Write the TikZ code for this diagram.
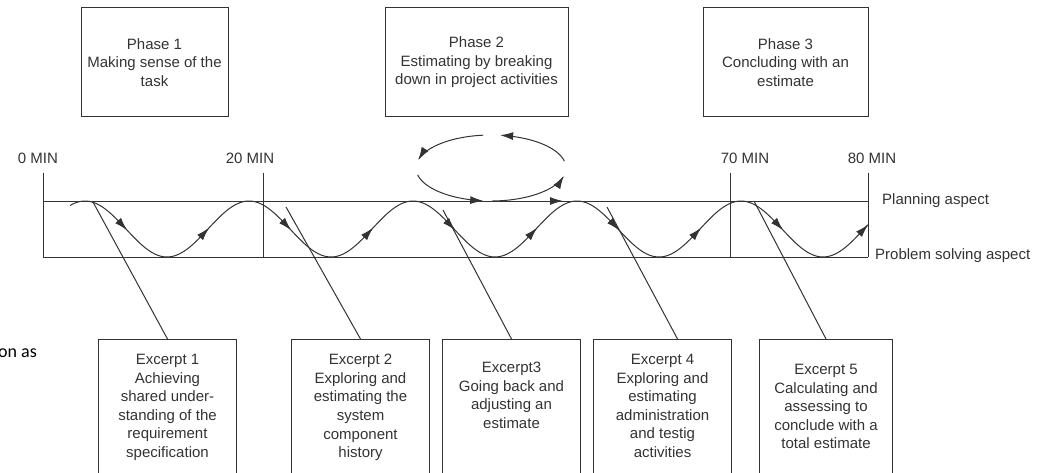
\documentclass[tikz,border=0pt]{standalone}
\usepackage{fontspec}
\setmainfont{Liberation Sans}
\newfontfamily\bodyfont{Carlito}
\usetikzlibrary{arrows.meta}

\begin{document}
\begin{tikzpicture}[x=1pt,y=-1pt,
  ink/.style={draw=black!80, line width=1pt},
  tip/.style={-{Latex[length=13pt,width=8pt]}},
  txt/.style={font=\fontsize{15}{18.6}\selectfont, text=black!80, inner sep=0pt},
  phasebox/.style={ink, txt, align=center, minimum height=109pt},
  exbox/.style={ink, anchor=north west, minimum width=138pt, minimum height=160pt, inner sep=0pt},
  extext/.style={txt, align=center, anchor=north},
  declare function={wy(\t)=229-28*cos(2.195122*(\t-85));},
]
\useasboundingbox (0,0) rectangle (1048,473);
\clip (0,0) rectangle (1048,473);

% phase boxes
\node[phasebox, minimum width=147pt] (ph1) at (154.5,62.5) {Phase 1\\Making sense of the\\task};
\node[phasebox, minimum width=183pt] (ph2) at (476.5,62.5) {Phase 2\\Estimating by breaking\\down in project activities};
\node[phasebox, minimum width=165pt] (ph3) at (785.5,62.5) {Phase 3\\Concluding with an\\estimate};

% time marks
\node[txt] (t0)  at (38,158)  {0 MIN};
\node[txt] (t20) at (250,158) {20 MIN};
\node[txt] (t70) at (745,158) {70 MIN};
\node[txt] (t80) at (872,158) {80 MIN};

% timeline frame
\coordinate (pl0) at (43,201);  \coordinate (pl1) at (868,201);
\coordinate (ps0) at (43,257);  \coordinate (ps1) at (868,257);
\draw[ink] (pl0) -- (pl1);
\draw[ink] (ps0) -- (ps1);
\foreach \m in {43,263,730,868}
  \draw[ink] (\m,173) -- (\m,257);

\node[txt, anchor=west] (plan) at (882,201) {Planning aspect};
\node[txt, anchor=west] (prob) at (875,256) {Problem solving aspect};

% wave between the two aspects
\draw[ink] plot[domain=70:868, samples=300] (\x,{wy(\x)});
% arrowheads along the wave
\foreach \s in {85,167,249,331,413,495,577,659,741} {
  \pgfmathsetmacro{\xa}{\s+42}
  \pgfmathsetmacro{\xb}{\s+41}
  \draw[ink, tip] (\xb,{wy(\xb)}) -- (\xa,{wy(\xa)});
}
\draw[ink, tip] (867,{wy(867)}) -- (868,{wy(868)});

% loop of phase 2
\draw[ink, tip] plot[domain=96:166, samples=30] ({491+75*cos(\x)},{168-33*sin(\x)});
\draw[ink, tip] plot[domain=12:83, samples=30] ({491+75*cos(\x)},{168-33*sin(\x)});
\draw[ink, tip] plot[domain=192:264, samples=30] ({491+75*cos(\x)},{168-33*sin(\x)});
\draw[ink, tip] plot[domain=271:346, samples=30] ({491+75*cos(\x)},{168-33*sin(\x)});
\coordinate (ha) at (490,201); \coordinate (hb) at (563,201);
\draw[ink, tip] (ha) -- (hb);

% excerpt boxes
\node[exbox] (ex1) at (98,339) {};
\node[exbox] (ex2) at (291,339) {};
\node[exbox] (ex3) at (442,339) {};
\node[exbox] (ex4) at (593,339) {};
\node[exbox, minimum width=133pt] (ex5) at (759,339) {};

\node[extext] (ex1t) at ([yshift=-15pt]ex1.north) {Excerpt 1\\Achieving\\shared under-\\standing of the\\requirement\\specification};
\node[extext] (ex2t) at ([yshift=-15pt]ex2.north) {Excerpt 2\\Exploring and\\estimating the\\system\\component\\history};
\node[extext] (ex3t) at ([yshift=-23pt]ex3.north) {Excerpt3\\Going back and\\adjusting an\\estimate};
\node[extext] (ex4t) at ([yshift=-15pt]ex4.north) {Excerpt 4\\Exploring and\\estimating\\administration\\and testig\\activities};
\node[extext] (ex5t) at ([yshift=-25pt]ex5.north) {Excerpt 5\\Calculating and\\assessing to\\conclude with a\\total estimate};

% leader lines from the wave to the excerpts
\coordinate (w1) at (93,202);
\coordinate (w2) at (286,207);
\coordinate (w3) at (443,210);
\coordinate (w4) at (607,207);
\coordinate (w5) at (754,201);
\draw[ink] (w1) -- (ex1.north);
\draw[ink] (w2) -- (ex2.north);
\draw[ink] (w3) -- (ex3.north);
\draw[ink] (w4) -- ([xshift=15pt]ex4.north);
\draw[ink] (w5) -- (ex5.north);

% running text at the margin
\node[font=\bodyfont\fontsize{18}{22}\selectfont, anchor=base west, inner sep=0pt] (side) at (-2,357) {on as};
\end{tikzpicture}
\end{document}
